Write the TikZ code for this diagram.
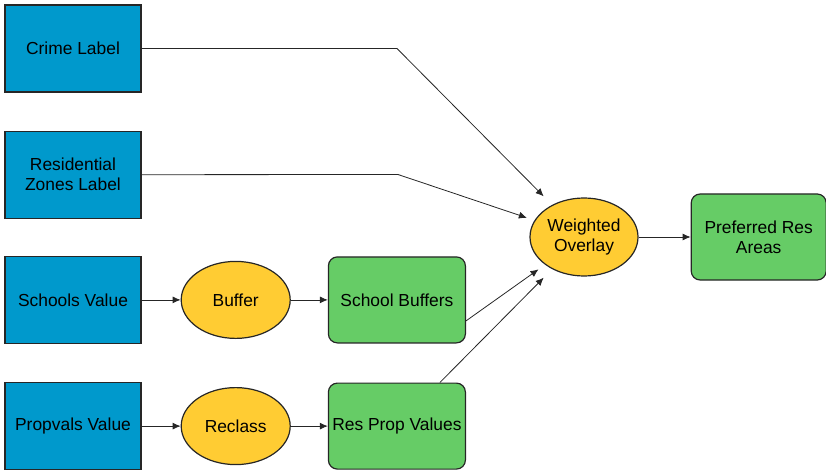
\documentclass[tikz,border=0pt]{standalone}
\usepackage{fontspec}
\setmainfont{Liberation Sans}
\usetikzlibrary{shapes,arrows.meta}
\usetikzlibrary{positioning}

\begin{document}
\begin{tikzpicture}[x=1pt,y=-1pt,
    inbox/.style={draw=black!85,line width=1.2pt,fill=inblue,minimum width=136pt,minimum height=87pt,align=center,inner sep=1pt,font=\fontsize{17.4}{20}\selectfont},
    toolnode/.style={ellipse,draw=black!85,line width=1.2pt,fill=toolyellow,minimum width=109pt,minimum height=77pt,align=center,inner sep=1pt,font=\fontsize{17.4}{20}\selectfont},
    outbox/.style={draw=black!85,line width=1.2pt,fill=outgreen,rounded corners=9pt,minimum width=137pt,minimum height=86pt,align=center,inner sep=1pt,font=\fontsize{17.4}{20}\selectfont},
    link/.style={-{Latex[length=8pt,width=7pt]},line width=0.8pt,draw=black!85}]

		    \definecolor{inblue}{rgb}{0.00,0.60,0.80}
		    \definecolor{toolyellow}{rgb}{1.00,0.80,0.20}
		    \definecolor{outgreen}{rgb}{0.40,0.80,0.40}
		    \useasboundingbox (0,0) rectangle (826,470);

		    % inputs
		    \node(crime) [inbox] at (73,48.5) {Crime Label};
		    \node(reszones) [inbox,below=38pt of crime] {Residential\\Zones Label};
		    \node(schools) [inbox,below=37pt of reszones] {Schools Value};
		    \node(propvals) [inbox,below=38pt of schools] {Propvals Value};

		    % tools and outputs
		    \node(buffer) [toolnode,right=39pt of schools] {Buffer};
		    \node(reclass) [toolnode,right=39pt of propvals] {Reclass};
		    \node(schbuf) [outbox,right=37pt of buffer] {School Buffers};
		    \node(resprop) [outbox,right=37pt of reclass] {Res Prop Values};
		    \node(overlay) [toolnode,minimum width=108pt,minimum height=78pt] at (584,237) {Weighted\\Overlay};
		    \node(prefres) [outbox,minimum width=135pt,right=52pt of overlay] {Preferred Res\\Areas};

		    \coordinate (crimebend) at (397,48.5);
		    \coordinate (resbend) at (398,174.5);

		    \draw[link] (schools.east) -- (buffer.west);
		    \draw[link] (propvals.east) -- (reclass.west);
		    \draw[link] (buffer.east) -- (schbuf.west);
		    \draw[link] (reclass.east) -- (resprop.west);
		    \draw[link,shorten >=12pt] (crime.east) -- (crimebend) -- (overlay);
		    \draw[link,shorten >=8pt] (reszones.east) -- (resbend) -- (overlay);
		    \draw[link,shorten >=8pt] ([yshift=-21pt]schbuf.east) -- (overlay);
		    \draw[link,shorten >=12pt] ([xshift=43pt]resprop.north) -- (overlay);
		    \draw[link] (overlay.east) -- (prefres.west);

\end{tikzpicture}
\end{document}
